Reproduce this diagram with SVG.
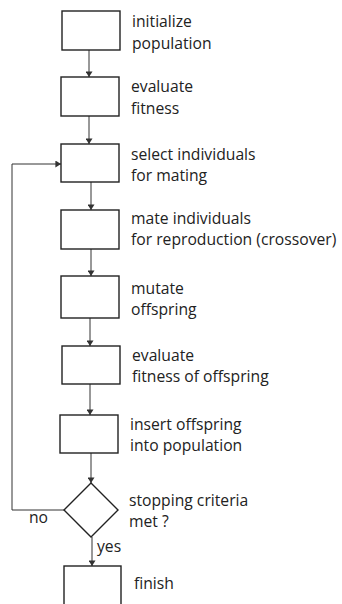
<svg xmlns="http://www.w3.org/2000/svg" width="342" height="604" viewBox="0 0 342 604">
<style>
.box{fill:#fff;stroke:#222;stroke-width:1.4}
.lbl{font-family:"Open Sans","Noto Sans",sans-serif;font-size:15.7px;fill:#222}
.con{fill:none;stroke:#333;stroke-width:1}
</style>
<defs>
<marker id="ah" viewBox="0 0 8 10" refX="8" refY="5" markerWidth="6" markerHeight="7" orient="auto" markerUnits="userSpaceOnUse">
<path d="M0,0 L8,5 L0,10 z" fill="#333"/>
</marker>
</defs>
<rect width="342" height="604" fill="#fff"/>
<g id="connectors">
<line class="con" x1="89" y1="50" x2="89" y2="77" marker-end="url(#ah)"/>
<line class="con" x1="89" y1="116" x2="89" y2="144" marker-end="url(#ah)"/>
<line class="con" x1="91" y1="182" x2="91" y2="210" marker-end="url(#ah)"/>
<line class="con" x1="91" y1="249" x2="91" y2="276" marker-end="url(#ah)"/>
<line class="con" x1="90" y1="318" x2="90" y2="346" marker-end="url(#ah)"/>
<line class="con" x1="90" y1="384" x2="90" y2="415" marker-end="url(#ah)"/>
<line class="con" x1="91" y1="453" x2="91" y2="483" marker-end="url(#ah)"/>
<line class="con" x1="92" y1="537" x2="92" y2="566" marker-end="url(#ah)"/>
<polyline class="con" points="64,510 12,510 12,164 61,164" marker-end="url(#ah)"/>
<text class="lbl" x="29" y="523">no</text>
<text class="lbl" x="97" y="552">yes</text>
</g>
<g id="n1"><rect class="box" x="62" y="11" width="58" height="39"/><text class="lbl" x="132" y="27">initialize</text><text class="lbl" x="132" y="49">population</text></g>
<g id="n2"><rect class="box" x="61" y="77" width="58" height="39"/><text class="lbl" x="131" y="92">evaluate</text><text class="lbl" x="131" y="114">fitness</text></g>
<g id="n3"><rect class="box" x="61" y="144" width="58" height="38"/><text class="lbl" x="131" y="160">select individuals</text><text class="lbl" x="131" y="181">for mating</text></g>
<g id="n4"><rect class="box" x="61" y="210" width="58" height="39"/><text class="lbl" x="131" y="224">mate individuals</text><text class="lbl" x="131" y="245">for reproduction (crossover)</text></g>
<g id="n5"><rect class="box" x="61" y="276" width="58" height="42"/><text class="lbl" x="131" y="294">mutate</text><text class="lbl" x="131" y="315">offspring</text></g>
<g id="n6"><rect class="box" x="62" y="346" width="58" height="38"/><text class="lbl" x="132" y="361">evaluate</text><text class="lbl" x="132" y="382">fitness of offspring</text></g>
<g id="n7"><rect class="box" x="60" y="415" width="58" height="38"/><text class="lbl" x="130" y="430">insert offspring</text><text class="lbl" x="130" y="451">into population</text></g>
<g id="n8"><polygon class="box" points="91,483 118,510 91,537 64,510"/><text class="lbl" x="129" y="506">stopping criteria</text><text class="lbl" x="129" y="527">met ?</text></g>
<g id="n9"><rect class="box" x="64" y="566" width="57" height="45"/><text class="lbl" x="134" y="589">finish</text></g>
</svg>
